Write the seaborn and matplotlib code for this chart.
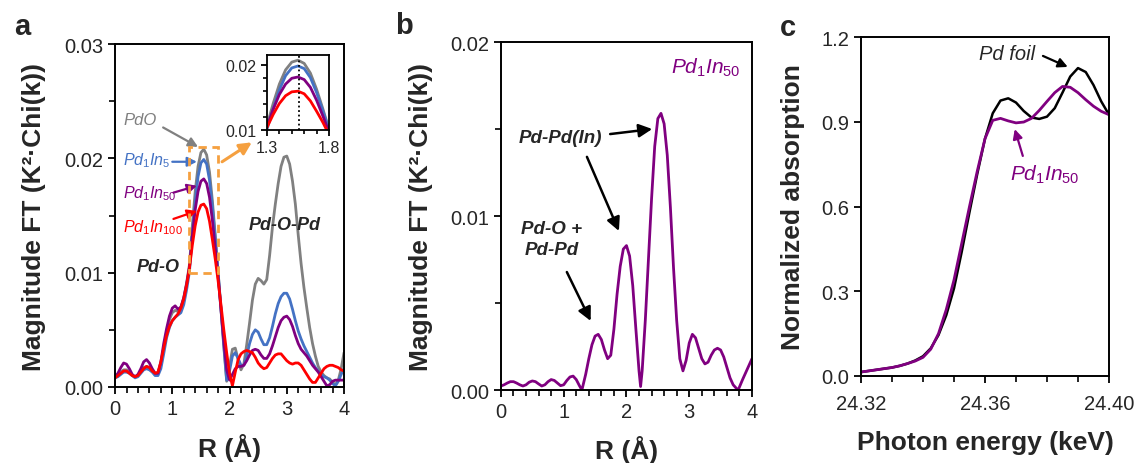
import numpy as np
import pandas as pd
import matplotlib
matplotlib.use("Agg")
import matplotlib.pyplot as plt
from matplotlib.ticker import MultipleLocator, FixedLocator
from matplotlib.patches import Rectangle
import seaborn as sns

# ---------------- data ----------------
# panel a: R grid (Angstrom)
R_a = [round(0.05 * i, 2) for i in range(81)]
pdo = [0.0010, 0.0011, 0.0013, 0.0015, 0.0015, 0.0013, 0.0010, 0.0009, 0.0010, 0.0014,
       0.0017, 0.0018, 0.0017, 0.0014, 0.0011, 0.0012, 0.0020, 0.0034, 0.0048, 0.0059,
       0.0065, 0.0067, 0.0066, 0.0069, 0.0078, 0.0091, 0.0107, 0.0141, 0.0171, 0.0193,
       0.0205, 0.0208, 0.0203, 0.0188, 0.0163, 0.0133, 0.0101, 0.0068, 0.0035, 0.0005,
       0.0018, 0.0033, 0.0034, 0.0024, 0.0015, 0.0020, 0.0037, 0.0056, 0.0076, 0.0090,
       0.0095, 0.0093, 0.0090, 0.0094, 0.0115, 0.0140, 0.0160, 0.0178, 0.0193, 0.0201,
       0.0202, 0.0195, 0.0180, 0.0160, 0.0133, 0.0108, 0.0087, 0.0069, 0.0052, 0.0038,
       0.0027, 0.0018, 0.0013, 0.0010, 0.0008, 0.0007, 0.0004, 0.0002, 0.0006, 0.0016,
       0.0030]
pd1in5 = [0.0008, 0.0009, 0.0011, 0.0013, 0.0013, 0.0012, 0.0010, 0.0008, 0.0009, 0.0012,
          0.0015, 0.0016, 0.0015, 0.0013, 0.0010, 0.0010, 0.0016, 0.0029, 0.0043, 0.0052,
          0.0058, 0.0061, 0.0063, 0.0065, 0.0072, 0.0085, 0.0101, 0.0133, 0.0162, 0.0184,
          0.0196, 0.0199, 0.0195, 0.0181, 0.0158, 0.0130, 0.0100, 0.0069, 0.0037, 0.0006,
          0.0014, 0.0027, 0.0030, 0.0025, 0.0019, 0.0019, 0.0027, 0.0038, 0.0046, 0.0050,
          0.0048, 0.0042, 0.0037, 0.0037, 0.0043, 0.0053, 0.0064, 0.0073, 0.0079, 0.0082,
          0.0082, 0.0077, 0.0068, 0.0058, 0.0049, 0.0042, 0.0036, 0.0031, 0.0026, 0.0021,
          0.0017, 0.0014, 0.0011, 0.0009, 0.0008, 0.0006, 0.0003, 0.0001, 0.0005, 0.0011,
          0.0016]
pd1in50 = [0.00085, 0.0012, 0.0017, 0.0021, 0.0020, 0.0016, 0.0011, 0.0009, 0.0011, 0.0016,
           0.0022, 0.0024, 0.0021, 0.0016, 0.0012, 0.0012, 0.0022, 0.0038, 0.0051, 0.0062,
           0.0069, 0.0071, 0.0068, 0.0070, 0.0078, 0.0090, 0.0105, 0.0132, 0.0155, 0.0171,
           0.0180, 0.0182, 0.0178, 0.0166, 0.0146, 0.0122, 0.0097, 0.0068, 0.0040, 0.0015,
           0.0006, 0.0011, 0.0016, 0.0018, 0.0018, 0.0019, 0.0023, 0.0028, 0.0032, 0.0033,
           0.0032, 0.0028, 0.0025, 0.0025, 0.0029, 0.0036, 0.0044, 0.0052, 0.0058, 0.0061,
           0.0062, 0.0059, 0.0053, 0.0045, 0.0038, 0.0033, 0.0030, 0.0027, 0.0023, 0.0019,
           0.0016, 0.0013, 0.0009, 0.0005, 0.0001, 0.0002, 0.0005, 0.0006, 0.0006, 0.0006,
           0.0006]
pd1in100 = [0.0008, 0.0010, 0.0012, 0.0014, 0.0014, 0.0012, 0.0010, 0.0009, 0.0010, 0.0013,
            0.0016, 0.0018, 0.0017, 0.0014, 0.0012, 0.0013, 0.0022, 0.0034, 0.0045, 0.0053,
            0.0058, 0.0061, 0.0064, 0.0069, 0.0077, 0.0089, 0.0104, 0.0124, 0.0141, 0.0153,
            0.0159, 0.0160, 0.0156, 0.0145, 0.0129, 0.0112, 0.0093, 0.0072, 0.0050, 0.0030,
            0.0012, 0.0001, 0.0013, 0.0024, 0.0029, 0.0031, 0.0032, 0.0031, 0.0030, 0.0026,
            0.0021, 0.0018, 0.0016, 0.0017, 0.0021, 0.0025, 0.0028, 0.0029, 0.0029, 0.0026,
            0.0023, 0.0021, 0.0020, 0.0021, 0.0021, 0.0019, 0.0015, 0.0011, 0.0007, 0.0004,
            0.0004, 0.0008, 0.0012, 0.0016, 0.0018, 0.0019, 0.0019, 0.0018, 0.0017, 0.0015,
            0.0014]

# panel b
R_b = [0.00, 0.05, 0.10, 0.15, 0.20, 0.25, 0.30, 0.35, 0.40, 0.45, 0.50, 0.55, 0.60, 0.65,
       0.70, 0.75, 0.80, 0.85, 0.90, 0.95, 1.00, 1.05, 1.10, 1.15, 1.20, 1.25, 1.29, 1.35,
       1.40, 1.45, 1.50, 1.55, 1.60, 1.65, 1.70, 1.75, 1.80, 1.85, 1.90, 1.95, 2.00, 2.05,
       2.10, 2.15, 2.20, 2.225, 2.25, 2.30, 2.35, 2.40, 2.45, 2.50, 2.55, 2.60, 2.65, 2.70,
       2.75, 2.80, 2.85, 2.90, 2.95, 3.00, 3.05, 3.10, 3.15, 3.20, 3.25, 3.30, 3.35, 3.40,
       3.45, 3.50, 3.55, 3.60, 3.65, 3.70, 3.75, 3.78, 3.85, 3.90, 3.95, 4.00]
pd1in50_b = [0.00023, 0.0003, 0.0004, 0.00048, 0.00048, 0.0004, 0.0003, 0.00023, 0.0003,
             0.00045, 0.00052, 0.00048, 0.00035, 0.00023, 0.0003, 0.00048, 0.0006, 0.00055,
             0.0004, 0.00025, 0.0003, 0.00055, 0.00075, 0.0008, 0.0006, 0.00025, 0.0000,
             0.0009, 0.0018, 0.0026, 0.0031, 0.0032, 0.0029, 0.0023, 0.0018, 0.0020, 0.0035,
             0.0055, 0.0071, 0.0081, 0.0083, 0.0077, 0.0060, 0.0035, 0.0011, 0.0002, 0.0011,
             0.0040, 0.0075, 0.0110, 0.0140, 0.0156, 0.0159, 0.0153, 0.0135, 0.0105, 0.0070,
             0.0040, 0.0018, 0.0011, 0.0017, 0.0027, 0.0032, 0.0030, 0.0024, 0.0018, 0.0015,
             0.0016, 0.0020, 0.0023, 0.0024, 0.0023, 0.0019, 0.0013, 0.0007, 0.0003, 0.0001,
             0.0000, 0.0006, 0.0010, 0.0014, 0.0018]

# panel c: photon energy (keV)
E_c = [24.3200, 24.3225, 24.3250, 24.3275, 24.3300, 24.3325, 24.3350, 24.3375, 24.3400,
       24.3425, 24.3450, 24.3475, 24.3500, 24.3525, 24.3550, 24.3575, 24.3600, 24.3625,
       24.3650, 24.3675, 24.3700, 24.3725, 24.3750, 24.3775, 24.3800, 24.3825, 24.3850,
       24.3875, 24.3900, 24.3925, 24.3950, 24.3975, 24.4000]
pd_foil = [0.014, 0.018, 0.022, 0.026, 0.030, 0.036, 0.044, 0.055, 0.070, 0.098, 0.145,
           0.215, 0.310, 0.440, 0.580, 0.715, 0.840, 0.930, 0.975, 0.983, 0.968, 0.938,
           0.915, 0.910, 0.918, 0.948, 1.003, 1.060, 1.090, 1.076, 1.030, 0.972, 0.925]
pd1in50_c = [0.014, 0.018, 0.022, 0.026, 0.030, 0.036, 0.044, 0.053, 0.066, 0.095, 0.150,
             0.235, 0.340, 0.470, 0.600, 0.725, 0.840, 0.905, 0.912, 0.903, 0.896, 0.899,
             0.912, 0.940, 0.972, 1.003, 1.025, 1.022, 1.003, 0.978, 0.955, 0.937, 0.925]

# ---------------- style ----------------
sns.set_style("ticks")
plt.rcParams['font.family'] = ['Liberation Sans', 'DejaVu Sans']
plt.rcParams['mathtext.fontset'] = 'custom'
plt.rcParams['mathtext.rm'] = 'Liberation Sans'
plt.rcParams['mathtext.it'] = 'Liberation Sans:italic'
plt.rcParams['mathtext.bf'] = 'Liberation Sans:bold'

GRAY = '#808080'
BLUE = '#4472C4'
PURPLE = '#800080'
RED = '#FF0000'
ORANGE = '#F5A040'

TICK_FS = 14.5
LABEL_FS = 19
ANN_A = 11.5

W, H = 1138, 464
fig = plt.figure(figsize=(W / 100, H / 100), dpi=100)
ax_a = fig.add_axes([0.1011, 0.1638, 0.2012, 0.7392])
ax_b = fig.add_axes([0.4402, 0.1573, 0.2206, 0.7500])
ax_c = fig.add_axes([0.7566, 0.1875, 0.2179, 0.7306])
ax_in = fig.add_axes([0.2346, 0.7177, 0.0545, 0.1616])


def style_axes(ax, lw=1.4):
    for s in ax.spines.values():
        s.set_visible(True)
        s.set_linewidth(lw)
        s.set_color('black')
    ax.tick_params(which='major', direction='out', length=5, width=1.3,
                   labelsize=TICK_FS, color='black')
    ax.tick_params(which='minor', direction='out', length=4, width=1.2, color='black')
    ax.tick_params(top=False, right=False, which='both')


df_a = pd.DataFrame({'R': R_a, 'PdO': pdo, 'Pd1In5': pd1in5,
                     'Pd1In50': pd1in50, 'Pd1In100': pd1in100})

# ---------------- panel a ----------------
for col, c in [('PdO', GRAY), ('Pd1In5', BLUE), ('Pd1In50', PURPLE), ('Pd1In100', RED)]:
    sns.lineplot(data=df_a, x='R', y=col, ax=ax_a, color=c, lw=2.0)
ax_a.set_xlim(0, 4)
ax_a.set_ylim(0, 0.03)
ax_a.set_xticks([0, 1, 2, 3, 4])
ax_a.set_xticklabels(['0', '1', '2', '3', '4'])
ax_a.xaxis.set_minor_locator(MultipleLocator(0.2))
ax_a.set_yticks([0, 0.01, 0.02, 0.03])
ax_a.set_yticklabels(['0.00', '0.01', '0.02', '0.03'])
ax_a.yaxis.set_minor_locator(MultipleLocator(0.005))
style_axes(ax_a)
ax_a.set_xlabel('R (Å)', fontsize=LABEL_FS, fontweight='bold', labelpad=11)
ax_a.set_ylabel('Magnitude FT (K²·Chi(k))', fontsize=LABEL_FS, fontweight='bold', labelpad=13)

ax_a.add_patch(Rectangle((1.3, 0.01), 0.5, 0.011, fill=False, ec=ORANGE, lw=2.0,
                         ls=(0, (3, 2)), zorder=5))
arw = dict(arrowstyle='-|>', lw=1.6, mutation_scale=14, shrinkA=0, shrinkB=0)
ax_a.annotate('', xy=(2.39, 0.0214), xytext=(1.87, 0.0197),
              arrowprops=dict(arw, color=ORANGE, lw=2.2, mutation_scale=18))
ax_a.text(0.14, 0.0234, 'PdO', color=GRAY, fontsize=ANN_A + 0.5, style='italic',
          ha='left', va='center')
ax_a.annotate('', xy=(1.45, 0.0210), xytext=(0.84, 0.0227), arrowprops=dict(arw, color=GRAY))
ax_a.text(0.14, 0.0199, r'$Pd_1In_5$', color=BLUE, fontsize=ANN_A, ha='left', va='center')
ax_a.annotate('', xy=(1.43, 0.0197), xytext=(1.0, 0.0197), arrowprops=dict(arw, color=BLUE))
ax_a.text(0.14, 0.0170, r'$Pd_1In_{50}$', color=PURPLE, fontsize=ANN_A, ha='left', va='center')
ax_a.annotate('', xy=(1.43, 0.0176), xytext=(1.02, 0.0170), arrowprops=dict(arw, color=PURPLE))
ax_a.text(0.14, 0.0140, r'$Pd_1In_{100}$', color=RED, fontsize=ANN_A, ha='left', va='center')
ax_a.annotate('', xy=(1.43, 0.0154), xytext=(1.02, 0.0147), arrowprops=dict(arw, color=RED))
ax_a.text(0.75, 0.0105, 'Pd-O', fontsize=13, fontweight='bold', style='italic',
          ha='center', va='center')
ax_a.text(2.97, 0.0142, 'Pd-O-Pd', fontsize=13, fontweight='bold', style='italic',
          ha='center', va='center')

# inset
for col, c in [('PdO', GRAY), ('Pd1In5', BLUE), ('Pd1In50', PURPLE), ('Pd1In100', RED)]:
    sns.lineplot(data=df_a, x='R', y=col, ax=ax_in, color=c, lw=2.0)
ax_in.axvline(1.56, color='black', ls=(0, (1, 1.5)), lw=1.3)
ax_in.set_xlim(1.3, 1.8)
ax_in.set_ylim(0.01, 0.0216)
ax_in.set_xticks([1.3, 1.8])
ax_in.set_xticklabels(['1.3', '1.8'])
ax_in.xaxis.set_minor_locator(MultipleLocator(0.1))
ax_in.set_yticks([0.01, 0.02])
ax_in.set_yticklabels(['0.01', '0.02'])
ax_in.yaxis.set_minor_locator(MultipleLocator(0.002))
style_axes(ax_in, lw=1.3)
ax_in.tick_params(which='major', labelsize=11.5, length=4)
ax_in.tick_params(which='minor', length=3)
ax_in.set_xlabel('')
ax_in.set_ylabel('')

# ---------------- panel b ----------------
df_b = pd.DataFrame({'R': R_b, 'Pd1In50': pd1in50_b})
sns.lineplot(data=df_b, x='R', y='Pd1In50', ax=ax_b, color=PURPLE, lw=2.0)
ax_b.set_xlim(0, 4)
ax_b.set_ylim(0, 0.02)
ax_b.set_xticks([0, 1, 2, 3, 4])
ax_b.set_xticklabels(['0', '1', '2', '3', '4'])
ax_b.xaxis.set_minor_locator(MultipleLocator(0.2))
ax_b.set_yticks([0, 0.01, 0.02])
ax_b.set_yticklabels(['0.00', '0.01', '0.02'])
ax_b.yaxis.set_minor_locator(MultipleLocator(0.005))
style_axes(ax_b)
ax_b.set_xlabel('R (Å)', fontsize=LABEL_FS, fontweight='bold', labelpad=10)
ax_b.set_ylabel('Magnitude FT (K²·Chi(k))', fontsize=LABEL_FS, fontweight='bold', labelpad=12)
ax_b.text(3.27, 0.01856, r'$Pd_1In_{50}$', color=PURPLE, fontsize=15, ha='center', va='center')
ax_b.text(0.94, 0.01454, 'Pd-Pd(In)', fontsize=13.5, fontweight='bold', style='italic',
          ha='center', va='center')
ax_b.text(0.81, 0.00868, 'Pd-O +\nPd-Pd', fontsize=13.5, fontweight='bold', style='italic',
          ha='center', va='center', linespacing=1.3)
arwb = dict(arrowstyle='-|>', lw=1.8, mutation_scale=20, color='black', shrinkA=0, shrinkB=0)
ax_b.annotate('', xy=(2.41, 0.0150), xytext=(1.74, 0.01471), arrowprops=arwb)
ax_b.annotate('', xy=(1.88, 0.00914), xytext=(1.37, 0.0134), arrowprops=arwb)
ax_b.annotate('', xy=(1.43, 0.00397), xytext=(1.05, 0.00678), arrowprops=arwb)

# ---------------- panel c ----------------
df_c = pd.DataFrame({'E': E_c, 'Pd foil': pd_foil, 'Pd1In50': pd1in50_c})
sns.lineplot(data=df_c, x='E', y='Pd foil', ax=ax_c, color='black', lw=1.8)
sns.lineplot(data=df_c, x='E', y='Pd1In50', ax=ax_c, color=PURPLE, lw=2.0)
ax_c.set_xlim(24.32, 24.40)
ax_c.set_ylim(0, 1.2)
ax_c.set_xticks([24.32, 24.36, 24.40])
ax_c.set_xticklabels(['24.32', '24.36', '24.40'])
ax_c.xaxis.set_minor_locator(FixedLocator([24.32 + 0.01 * i for i in range(9)]))
ax_c.set_yticks([0, 0.3, 0.6, 0.9, 1.2])
ax_c.set_yticklabels(['0.0', '0.3', '0.6', '0.9', '1.2'])
style_axes(ax_c)
ax_c.tick_params(axis='x', which='major', pad=8)
ax_c.set_xlabel('Photon energy (keV)', fontsize=LABEL_FS, fontweight='bold', labelpad=12)
ax_c.set_ylabel('Normalized absorption', fontsize=LABEL_FS, fontweight='bold', labelpad=12)
ax_c.text(24.367, 1.143, 'Pd foil', fontsize=14.5, style='italic', ha='center', va='center')
ax_c.annotate('', xy=(24.3867, 1.094), xytext=(24.3787, 1.133),
              arrowprops=dict(arw, color='black'))
ax_c.text(24.3793, 0.715, r'$Pd_1In_{50}$', color=PURPLE, fontsize=15, ha='center', va='center')
ax_c.annotate('', xy=(24.3696, 0.874), xytext=(24.3722, 0.779),
              arrowprops=dict(arw, color=PURPLE))

# panel letters (figure pixel positions)
for letter, px, py in [('a', 22, 27), ('b', 404, 26), ('c', 788, 28)]:
    fig.text(px / W, 1 - py / H, letter, fontsize=21, fontweight='bold',
             ha='center', va='center')

fig.savefig('out.png', dpi=100)
